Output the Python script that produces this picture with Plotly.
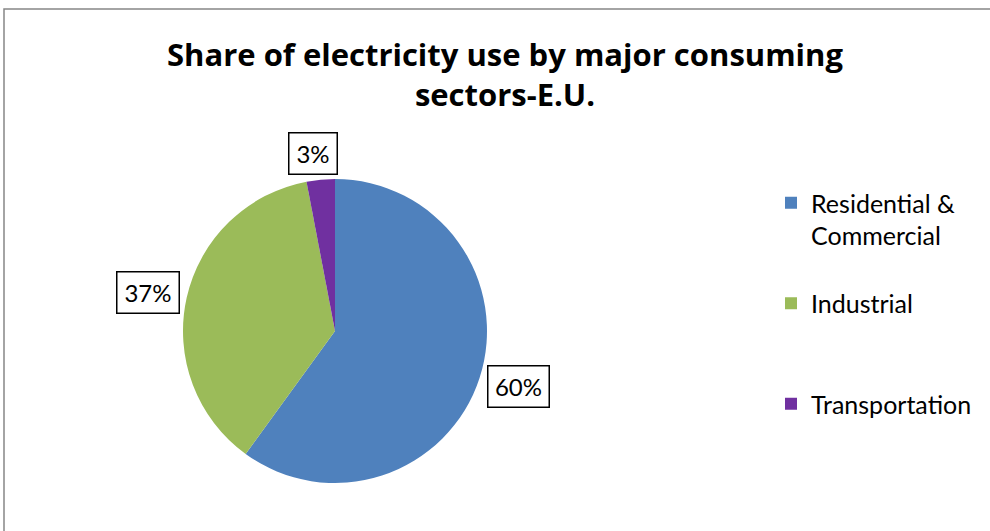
import plotly.graph_objects as go

sectors = ["Residential &<br>Commercial", "Industrial", "Transportation"]
shares = [60, 37, 3]
colors = ["#4F81BD", "#9BBB59", "#7030A0"]
title_lines = ["Share of electricity use by major consuming", "sectors-E.U."]

W, H = 990, 531
FONT = "Lato, 'Open Sans', sans-serif"
TFONT = "'Open Sans', Lato, sans-serif"

# legend labels padded with blank lines to reproduce the wide spacing
legend_labels = []
for s in sectors:
    n = s.count("<br>") + 1
    legend_labels.append(s + "<br> " * (3 - n))

fig = go.Figure()
fig.add_trace(go.Pie(
    labels=legend_labels,
    values=shares,
    marker=dict(colors=colors, line=dict(width=0)),
    sort=False,
    direction="clockwise",
    rotation=0,
    textinfo="none",
    hoverinfo="label+percent",
    domain=dict(x=[(335 - 152) / W, (335 + 152) / W],
                y=[(H - 483) / H, (H - 179) / H]),
))

# boxed percentage labels
label_pos = [(518, 387), (147.5, 292.5), (313, 153.5)]
label_w = [56, 57, 43]
for v, (px, py), bw in zip(shares, label_pos, label_w):
    fig.add_annotation(
        x=px / W, y=1 - py / H, xref="paper", yref="paper",
        text=f"{round(v / sum(shares) * 100)}%",
        showarrow=False, font=dict(family=FONT, size=24, color="#000"),
        bordercolor="#000", borderwidth=1.5, borderpad=2, bgcolor="#fff",
        width=bw, height=36, align="center", valign="middle",
        xanchor="center", yanchor="middle",
    )

# chart area border
fig.add_shape(type="rect", xref="paper", yref="paper",
              x0=4 / W, x1=1.05, y0=-0.05, y1=1 - 9 / H,
              line=dict(color="#868686", width=1.5))

fig.update_layout(
    width=W, height=H,
    margin=dict(l=0, r=0, t=0, b=0),
    paper_bgcolor="#fff", plot_bgcolor="#fff",
    title=dict(text="<b>" + "<br>".join(title_lines) + "</b>",
               x=505 / W, xanchor="center", y=1 - 66 / H, yanchor="top",
               font=dict(family=TFONT, size=31, color="#000")),
    legend=dict(x=771 / W, y=1 - 180 / H, xanchor="left", yanchor="top",
                font=dict(family=FONT, size=25, color="#000"),
                valign="top", traceorder="normal", bgcolor="rgba(0,0,0,0)"),
    showlegend=True,
)

fig.write_html("out.html")
